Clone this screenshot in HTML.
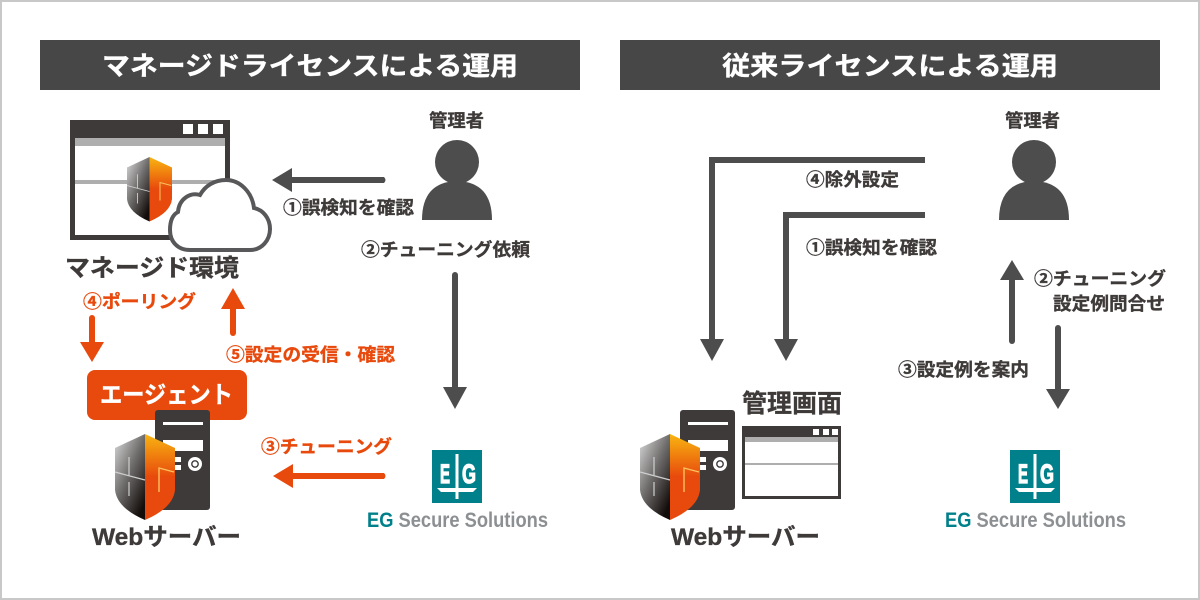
<!DOCTYPE html>
<html lang="ja"><head><meta charset="utf-8"><style>
html,body{margin:0;padding:0;background:#fff}
svg{display:block}
text{font-family:"Liberation Sans","Noto Sans CJK JP",sans-serif;font-weight:700;fill:#3e3a39;stroke:#3e3a39;stroke-width:.35px}
text.o{fill:#e8490c;stroke:#e8490c}
text.w{fill:#fff;stroke:#fff}
text.n{stroke:none}
text.lg{fill:#fff;stroke:#fff;stroke-width:1.3px;font-size:27px}
.l{font-size:18px}
.h{font-size:26px}
.b{font-size:24px}
.e{font-size:21px}
</style></head><body>
<svg width="1200" height="600" viewBox="0 0 1200 600" xmlns="http://www.w3.org/2000/svg">
<defs>
<linearGradient id="g1" x1="0" y1="0.05" x2="0.75" y2="1"><stop offset="0" stop-color="#d6d6d6"/><stop offset=".5" stop-color="#6e6c6b"/><stop offset="1" stop-color="#120c0a"/></linearGradient>
<linearGradient id="g2" x1="0" y1="0" x2="0" y2="1"><stop offset="0" stop-color="#f8b511"/><stop offset=".5" stop-color="#e8490c"/><stop offset="1" stop-color="#e8490c"/></linearGradient>
<g id="shield">
<path d="M30 0L0 14V56Q2 74 30 86Z" fill="url(#g1)"/>
<path d="M30 0L60 14V56Q58 74 30 86Z" fill="url(#g2)"/>
<path d="M14 23V42M0 38L30 46M14 48V62" stroke="#cfcfcf" stroke-width="1.2" fill="none"/>
<path d="M44 58V34L59 38" stroke="#fbc060" stroke-width="1.4" fill="none"/>
</g>
<g id="server">
<rect width="55" height="100" rx="3" fill="#3e3a39"/>
<rect x="8" y="12" width="40" height="3" fill="#fff"/>
<rect x="8" y="30" width="40" height="11" fill="#fff"/>
<rect x="20" y="47" width="6" height="5" fill="#fff"/>
<rect x="20" y="55" width="6" height="5" fill="#fff"/>
<circle cx="40" cy="54" r="7" fill="#fff"/>
<circle cx="40" cy="54" r="3.2" fill="none" stroke="#3e3a39" stroke-width="1.4"/>
</g>
<g id="person">
<circle cx="35" cy="22" r="22" fill="#4d4d4d"/>
<path d="M0 80Q0 42 35 41Q70 42 70 80Z" fill="#4d4d4d"/>
</g>
<g id="logo">
<rect width="50" height="53" fill="#00808a"/>
<text class="lg" x="8" y="33" textLength="10" lengthAdjust="spacingAndGlyphs">E</text>
<text class="lg" x="30" y="33" textLength="14" lengthAdjust="spacingAndGlyphs">G</text>
<rect x="23.500" y="4" width="3" height="45" fill="#fff"/>
<path d="M5 38H45L41 42H9Z" fill="#fff"/>
</g>
</defs>

<rect x="1" y="1" width="1198" height="598" fill="#fff" stroke="#c8c8c8" stroke-width="2"/>

<rect x="40" y="40" width="540" height="50" fill="#474747"/>
<rect x="620" y="40" width="540" height="50" fill="#474747"/>
<text class="h w" x="102" y="75" textLength="416" lengthAdjust="spacingAndGlyphs">マネージドライセンスによる運用</text>
<text class="h w" x="722" y="75" textLength="336" lengthAdjust="spacingAndGlyphs">従来ライセンスによる運用</text>

<!-- left window -->
<rect x="72.500" y="122.500" width="155" height="115" fill="#fff" stroke="#3e3a39" stroke-width="5"/>
<rect x="70" y="120" width="160" height="18" fill="#3e3a39"/>
<rect x="75" y="138" width="150" height="8" fill="#aeaeae"/>
<rect x="75" y="180" width="150" height="4" fill="#aeaeae"/>
<rect x="183" y="124" width="10" height="10" fill="#fff"/>
<rect x="198" y="124" width="10" height="10" fill="#fff"/>
<rect x="213" y="124" width="10" height="10" fill="#fff"/>
<use href="#shield" transform="translate(127 157) scale(.75)"/>
<path d="M190 250H250C262 250 270 240 270 229C270 218 263 210 254 208C252 192 240 180 226 180C214 180 205 186 200 195C190 192 179 199 178 212C172 215 170 222 170 230C170 242 178 250 190 250Z" fill="#fff" stroke="#58585a" stroke-width="4"/>
<text class="b" x="65" y="276" textLength="174" lengthAdjust="spacingAndGlyphs">マネージド環境</text>

<!-- left person -->
<text class="l" x="429" y="127" textLength="55" lengthAdjust="spacingAndGlyphs">管理者</text>
<use href="#person" transform="translate(422 140)"/>
<path d="M272 180L292 168V177H384Q387 180 384 183H292V192Z" fill="#4d4d4d"/>
<text class="l" x="283" y="214" textLength="131" lengthAdjust="spacingAndGlyphs">①誤検知を確認</text>
<text class="l" x="361" y="256" textLength="169" lengthAdjust="spacingAndGlyphs">②チューニング依頼</text>
<path d="M455 275V390" stroke="#4d4d4d" stroke-width="6" stroke-linecap="round"/>
<path d="M443 387H467L455 409Z" fill="#4d4d4d"/>

<!-- orange -->
<text class="l o" x="83" y="308" textLength="113" lengthAdjust="spacingAndGlyphs">④ポーリング</text>
<path d="M92 318V345" stroke="#e8490c" stroke-width="6" stroke-linecap="round"/>
<path d="M80 342H104L92 362Z" fill="#e8490c"/>
<path d="M233 306V333" stroke="#e8490c" stroke-width="6" stroke-linecap="round"/>
<path d="M221 309H245L233 288Z" fill="#e8490c"/>
<text class="l o" x="226" y="361" textLength="169" lengthAdjust="spacingAndGlyphs">⑤設定の受信・確認</text>
<rect x="87" y="370" width="160" height="50" rx="8" fill="#e8490c"/>
<text class="w" x="100" y="403" textLength="133" lengthAdjust="spacingAndGlyphs" style="font-size:24px">エージェント</text>
<use href="#server" transform="translate(155 410)"/>
<use href="#shield" transform="translate(115 434)"/>
<text class="b" x="92" y="545" textLength="149" lengthAdjust="spacingAndGlyphs">Webサーバー</text>
<text class="l o" x="261" y="453" textLength="131" lengthAdjust="spacingAndGlyphs">③チューニング</text>
<path d="M273 476L293 464V473H384Q387 476 384 479H293V488Z" fill="#e8490c"/>

<!-- left logo -->
<use href="#logo" transform="translate(432 450)"/>
<text class="n e" x="367" y="527" textLength="181" lengthAdjust="spacingAndGlyphs"><tspan style="fill:#00808a">EG</tspan><tspan style="fill:#8c9093"> Secure Solutions</tspan></text>

<!-- right -->
<path d="M925 160H712V340" fill="none" stroke="#4d4d4d" stroke-width="6"/>
<path d="M700 339H724L712 361Z" fill="#4d4d4d"/>
<path d="M925 215H786V340" fill="none" stroke="#4d4d4d" stroke-width="6"/>
<path d="M774 339H798L786 361Z" fill="#4d4d4d"/>
<text class="l" x="806" y="186" textLength="93" lengthAdjust="spacingAndGlyphs">④除外設定</text>
<text class="l" x="806" y="254" textLength="131" lengthAdjust="spacingAndGlyphs">①誤検知を確認</text>
<text class="l" x="1005" y="127" textLength="55" lengthAdjust="spacingAndGlyphs">管理者</text>
<use href="#person" transform="translate(999 140)"/>
<path d="M1012 280V341" stroke="#4d4d4d" stroke-width="6" stroke-linecap="round"/>
<path d="M1000 280H1024L1012 260Z" fill="#4d4d4d"/>
<path d="M1058 328V392" stroke="#4d4d4d" stroke-width="6" stroke-linecap="round"/>
<path d="M1046 389H1070L1058 409Z" fill="#4d4d4d"/>
<text class="l" x="1034" y="285" textLength="132" lengthAdjust="spacingAndGlyphs">②チューニング</text>
<text class="l" x="1053" y="310" textLength="112" lengthAdjust="spacingAndGlyphs">設定例問合せ</text>
<text class="l" x="898" y="376" textLength="131" lengthAdjust="spacingAndGlyphs">③設定例を案内</text>

<text class="b" x="742" y="412" textLength="100" lengthAdjust="spacingAndGlyphs" style="font-size:25px">管理画面</text>
<use href="#server" transform="translate(680 410)"/>
<rect x="743.500" y="427.500" width="96" height="70" fill="#fff" stroke="#3e3a39" stroke-width="3"/>
<rect x="742" y="426" width="99" height="11" fill="#3e3a39"/>
<rect x="745" y="437" width="93" height="5" fill="#aeaeae"/>
<rect x="745" y="463" width="93" height="2" fill="#aeaeae"/>
<rect x="813" y="429" width="6" height="6" fill="#fff"/>
<rect x="823" y="429" width="6" height="6" fill="#fff"/>
<rect x="832" y="429" width="6" height="6" fill="#fff"/>
<use href="#shield" transform="translate(640 434)"/>
<text class="b" x="671" y="545" textLength="149" lengthAdjust="spacingAndGlyphs">Webサーバー</text>

<use href="#logo" transform="translate(1010 450)"/>
<text class="n e" x="945" y="527" textLength="181" lengthAdjust="spacingAndGlyphs"><tspan style="fill:#00808a">EG</tspan><tspan style="fill:#8c9093"> Secure Solutions</tspan></text>
</svg>
</body></html>
